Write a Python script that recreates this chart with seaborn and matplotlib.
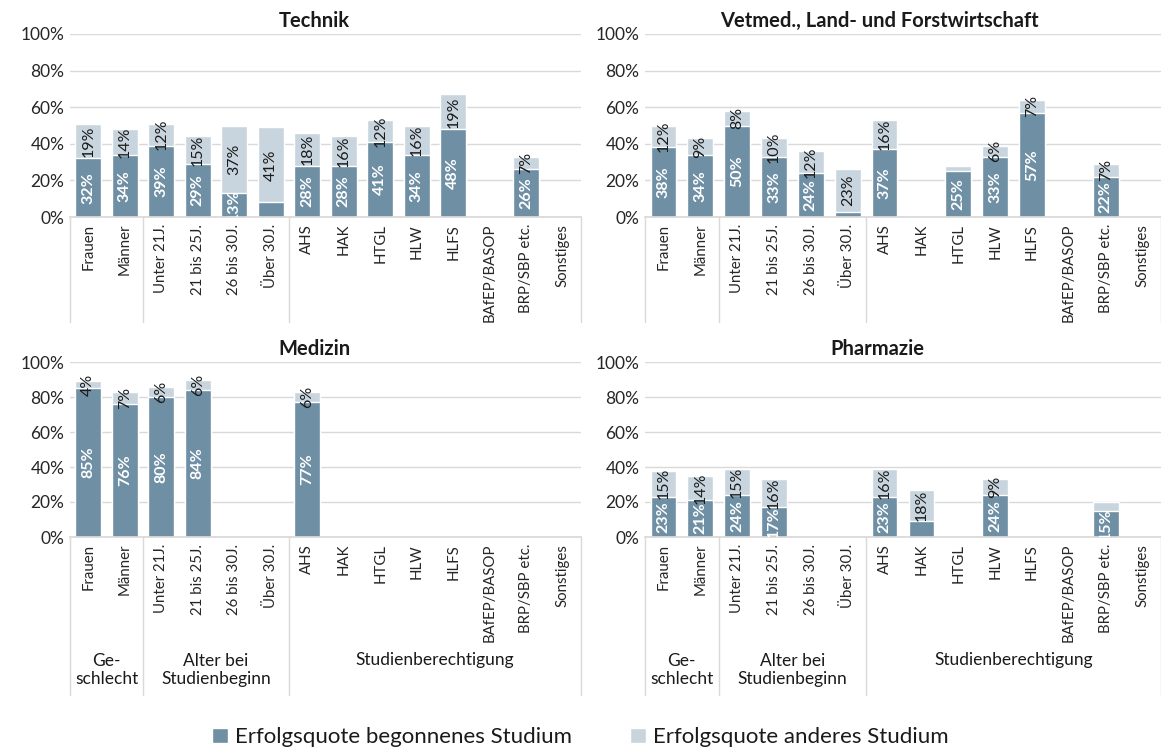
import numpy as np
import pandas as pd
import matplotlib
matplotlib.use("Agg")
import matplotlib.pyplot as plt
import matplotlib.transforms as mtransforms
from matplotlib.patches import Patch
import seaborn as sns

# Defining the data
categories = ["Frauen", "Männer", "Unter 21J.", "21 bis 25J.", "26 bis 30J.", "Über 30J.",
              "AHS", "HAK", "HTGL", "HLW", "HLFS", "BAfEP/BASOP", "BRP/SBP etc.", "Sonstiges"]
groups = ["Ge-\nschlecht", "Alter bei\nStudienbeginn", "Studienberechtigung"]
group_sizes = [2, 4, 8]
series_names = ["Erfolgsquote begonnenes Studium", "Erfolgsquote anderes Studium"]
panel_titles = ["Technik", "Vetmed., Land- und Forstwirtschaft", "Medizin", "Pharmazie"]

nan = np.nan
technik_begonnen = [32, 34, 39, 29, 13, 8, 28, 28, 41, 34, 48, nan, 26, nan]
technik_anderes = [19, 14, 12, 15, 37, 41, 18, 16, 12, 16, 19, nan, 7, nan]
vetmed_begonnen = [38, 34, 50, 33, 24, 3, 37, nan, 25, 33, 57, nan, 22, nan]
vetmed_anderes = [12, 9, 8, 10, 12, 23, 16, nan, 3, 6, 7, nan, 7, nan]
medizin_begonnen = [85, 76, 80, 84, nan, nan, 77, nan, nan, nan, nan, nan, nan, nan]
medizin_anderes = [4, 7, 6, 6, nan, nan, 6, nan, nan, nan, nan, nan, nan, nan]
pharmazie_begonnen = [23, 21, 24, 17, nan, nan, 23, 9, nan, 24, nan, nan, 15, nan]
pharmazie_anderes = [15, 14, 15, 16, nan, nan, 16, 18, nan, 9, nan, nan, 5, nan]

# values shown without a data label in the source chart
technik_ohne_label = [("begonnen", "Über 30J.")]
vetmed_ohne_label = [("begonnen", "Über 30J."), ("anderes", "HTGL")]
medizin_ohne_label = []
pharmazie_ohne_label = [("begonnen", "HAK"), ("anderes", "BRP/SBP etc.")]

DARK = "#6E8FA4"
LIGHT = "#C8D5DE"
GRID = "#D9D9D9"

sns.set_theme(style="white")
plt.rcParams['font.family'] = ['Lato', 'DejaVu Sans']
plt.rcParams['text.color'] = '#1a1a1a'

fig = plt.figure(figsize=(11.61, 7.51), dpi=100)

# axes positions (left, bottom, width, height) in figure fraction
positions = [
    (70 / 1161, 1 - 217 / 751, 511 / 1161, 183 / 751),
    (645 / 1161, 1 - 217 / 751, 516 / 1161, 183 / 751),
    (70 / 1161, 1 - 537 / 751, 511 / 1161, 175 / 751),
    (645 / 1161, 1 - 537 / 751, 516 / 1161, 175 / 751),
]
title_x = [0.479, 0.455, 0.479, 0.450]
panels = [
    (technik_begonnen, technik_anderes, technik_ohne_label),
    (vetmed_begonnen, vetmed_anderes, vetmed_ohne_label),
    (medizin_begonnen, medizin_anderes, medizin_ohne_label),
    (pharmazie_begonnen, pharmazie_anderes, pharmazie_ohne_label),
]

for idx, (begonnen, anderes, ohne_label) in enumerate(panels):
    ax = fig.add_axes(positions[idx])
    df = pd.DataFrame({"kategorie": categories,
                       "begonnen": begonnen,
                       "anderes": anderes})
    df["gesamt"] = df["begonnen"] + df["anderes"]

    sns.barplot(data=df, x="kategorie", y="gesamt", order=categories, color=LIGHT,
                saturation=1, width=0.7, edgecolor="white", linewidth=1, errorbar=None, ax=ax)
    sns.barplot(data=df, x="kategorie", y="begonnen", order=categories, color=DARK,
                saturation=1, width=0.7, edgecolor="white", linewidth=1, errorbar=None, ax=ax)

    # data labels
    for i, row in df.iterrows():
        if np.isnan(row["begonnen"]):
            continue
        if ("begonnen", row["kategorie"]) not in ohne_label:
            ax.text(i, row["begonnen"] / 2, f"{row['begonnen']:.0f}%", rotation=90,
                    ha="center", va="center", color="white", fontweight="bold",
                    fontsize=11.5, clip_on=True)
        if ("anderes", row["kategorie"]) not in ohne_label:
            ax.text(i, row["begonnen"] + row["anderes"] / 2, f"{row['anderes']:.0f}%",
                    rotation=90, ha="center", va="center", color="#1a1a1a", fontsize=11.5)

    ax.set_xlim(-0.5, len(categories) - 0.5)
    ax.set_ylim(0, 100)
    ax.set_yticks(range(0, 101, 20))
    ax.set_yticklabels([f"{v}%" for v in range(0, 101, 20)], fontsize=12.5)
    ax.set_xticks(range(len(categories)))
    ax.set_xticklabels(categories, rotation=90, fontsize=10.8)
    ax.tick_params(axis="both", length=0, pad=4)
    ax.tick_params(axis="x", pad=5)
    ax.set_xlabel("")
    ax.set_ylabel("")
    ax.yaxis.grid(True, color=GRID, linewidth=1)
    ax.set_axisbelow(True)
    for side in ["top", "right", "left"]:
        ax.spines[side].set_visible(False)
    ax.spines["bottom"].set_color(GRID)
    ax.set_title(panel_titles[idx], fontsize=14.5, fontweight="bold", x=title_x[idx], pad=5)

    # group separators below the axis
    trans = mtransforms.blended_transform_factory(ax.transData, ax.transAxes)
    bottom_row = idx >= 2
    y_end = -0.90 if bottom_row else -0.574
    bounds = np.cumsum([0] + group_sizes) - 0.5
    for b in bounds:
        ax.plot([b, b], [0, y_end], transform=trans, color=GRID, linewidth=1, clip_on=False)

    if bottom_row:
        for g, (name, start, size) in enumerate(zip(groups, bounds[:-1], group_sizes)):
            ax.text(start + size / 2, -0.66, name, transform=trans, ha="center", va="top",
                    fontsize=12.5, linespacing=1.2)

handles = [Patch(facecolor=DARK, label=series_names[0]),
           Patch(facecolor=LIGHT, label=series_names[1])]
fig.legend(handles=handles, loc="center", bbox_to_anchor=(0.5, 0.018), ncol=2,
           frameon=False, fontsize=16, handlelength=0.7, handleheight=0.7,
           handletextpad=0.35, columnspacing=2.6)

fig.savefig("out.png", dpi=100)
